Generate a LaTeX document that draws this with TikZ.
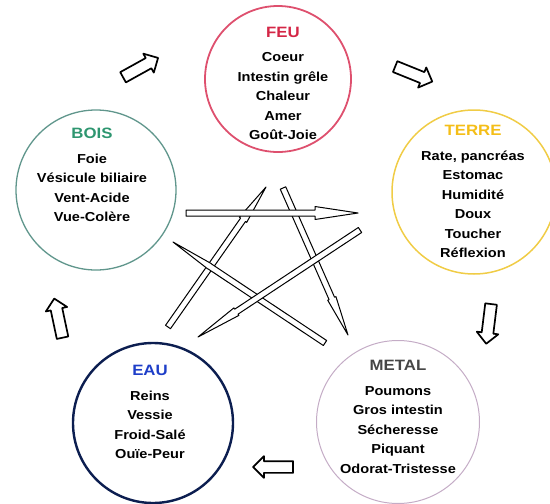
\documentclass[tikz,border=0pt]{standalone}
\usepackage{fontspec}
\setmainfont{Liberation Sans}[FakeStretch=1.12]
\usetikzlibrary{calc,shapes.arrows}

\definecolor{feuc}{RGB}{212,38,70}
\definecolor{feur}{RGB}{222,80,110}
\definecolor{boisc}{RGB}{46,150,112}
\definecolor{boisr}{RGB}{96,150,140}
\definecolor{terrec}{RGB}{244,190,24}
\definecolor{terrer}{RGB}{240,204,70}
\definecolor{eauc}{RGB}{30,62,200}
\definecolor{eaur}{RGB}{12,30,80}
\definecolor{metalc}{RGB}{70,70,70}
\definecolor{metalr}{RGB}{196,172,198}

\begin{document}
\begin{tikzpicture}[x=1pt,y=-1pt,
    cercle/.style={circle, draw, inner sep=0pt, minimum size=160pt},
    texte/.style={anchor=north, align=center, inner sep=0pt,
                  font=\bfseries\fontsize{13}{19.5}\selectfont},
    bloc/.style={single arrow, draw=black, line width=1.7pt, fill=white,
                 minimum height=40pt, inner sep=5pt, single arrow head extend=5pt,
                 line join=round},
    lance/.style={draw=black, fill=white, line width=1pt, line join=round}]

    \useasboundingbox (0,0) rectangle (550,504);

    % -----------------------------------------------------
    % 1) Les cinq elements : cercles
    % -----------------------------------------------------
    \node[cercle, draw=feur, line width=1.8pt, minimum size=146pt] (feu) at (278,79) {};
    \node[cercle, draw=boisr, line width=1.3pt] (bois) at (96,190) {};
    \node[cercle, draw=terrer, line width=1.5pt, minimum size=164pt] (terre) at (474,192) {};
    \node[cercle, draw=eaur, line width=2.4pt] (eau) at (153,423) {};
    \node[cercle, draw=metalr, line width=1pt, minimum size=163pt] (metal) at (398,422) {};

    % -----------------------------------------------------
    % 2) Textes de chaque element
    % -----------------------------------------------------
    \node[texte] (feuT) at (283,26.5) {{\fontsize{15}{19.5}\selectfont\color{feuc}FEU}\\[5pt]
        Coeur\\Intestin grêle\\Chaleur\\Amer\\Goût-Joie};
    \node[texte] (boisT) at (92,128) {{\fontsize{15}{19.5}\selectfont\color{boisc}BOIS}\\[5pt]
        Foie\\Vésicule biliaire\\Vent-Acide\\Vue-Colère};
    \node[texte] (terreT) at (473,125) {{\fontsize{15}{19.5}\selectfont\color{terrec}TERRE}\\[5pt]
        Rate, pancréas\\Estomac\\Humidité\\Doux\\Toucher\\Réflexion};
    \node[texte] (eauT) at (150,365) {{\fontsize{15}{19.5}\selectfont\color{eauc}EAU}\\[5pt]
        Reins\\Vessie\\Froid-Salé\\Ouïe-Peur};
    \node[texte] (metalT) at (398,360) {{\fontsize{15}{19.5}\selectfont\color{metalc}METAL}\\[5pt]
        Poumons\\Gros intestin\\Sécheresse\\Piquant\\Odorat-Tristesse};

    % -----------------------------------------------------
    % 3) Cycle d'engendrement : fleches creuses
    % -----------------------------------------------------
    \node[bloc, rotate=29] (b2f) at (138,69) {};
    \node[bloc, rotate=-22] (f2t) at (411,73) {};
    \node[bloc, rotate=-97] (t2m) at (489,321) {};
    \node[bloc, rotate=180] (m2e) at (276,467) {};
    \node[bloc, rotate=102] (e2b) at (59,321) {};

    % -----------------------------------------------------
    % 4) Cycle de controle : l'etoile
    % -----------------------------------------------------
    \coordinate (depEau) at (168,327);   \coordinate (arrFeu) at (266,187);
    \coordinate (depFeu) at (283,188);   \coordinate (arrMetal) at (348,335);
    \coordinate (depMetal) at (325,343); \coordinate (arrBois) at (173,242);
    \coordinate (depTerre) at (360,230); \coordinate (arrEau) at (198,337);
    \coordinate (depBois) at (186,213);  \coordinate (arrTerre) at (358,213);

    \foreach \a/\b/\l/\w in {depEau/arrFeu/40pt/4.5pt, depFeu/arrMetal/40pt/4.5pt,
            depMetal/arrBois/44pt/3.2pt, depTerre/arrEau/46pt/4.5pt,
            depBois/arrTerre/43pt/6.5pt} {
        \coordinate (h) at ($(\b)!\l!(\a)$);
        \filldraw[lance] ($(\a)!3pt!90:(\b)$) -- ($(h)!3pt!90:(\b)$)
            -- ($(h)!\w!90:(\b)$) -- (\b) -- ($(h)!\w!-90:(\b)$)
            -- ($(h)!3pt!-90:(\b)$) -- ($(\a)!3pt!-90:(\b)$) -- cycle;
    }

\end{tikzpicture}
\end{document}
